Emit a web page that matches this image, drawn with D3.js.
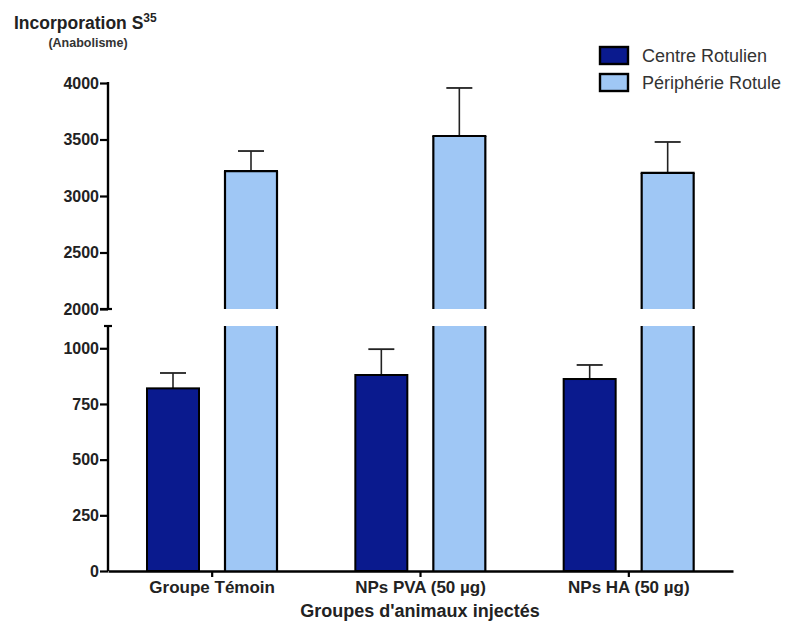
<!DOCTYPE html>
<html><head><meta charset="utf-8">
<script src="https://cdn.jsdelivr.net/npm/d3@7"></script>
<style>body{margin:0;background:#fff}svg{display:block;font-family:"Liberation Sans",Arial,sans-serif}</style>
</head><body><svg id="c" width="790" height="628"></svg>
<script>
const categories = ["Groupe Témoin", "NPs PVA (50 µg)", "NPs HA (50 µg)"];
const seriesNames = ["Centre Rotulien", "Périphérie Rotule"];
const centre = [820, 880, 862];
const centreErr = [69, 116, 63];
const peripherie = [3221, 3531, 3204];
const peripherieErr = [177, 425, 274];
const lowTicks = [0, 250, 500, 750, 1000];
const highTicks = [2000, 2500, 3000, 3500, 4000];
const colors = ["#0a1a8e", "#9fc7f5"];

const FONT = "Liberation Sans, Arial, sans-serif";
const svg = d3.select("#c");
const x0 = 108, x1 = 733;
const xG = d3.scaleBand().domain(categories).range([x0, x1]);
const xS = d3.scaleBand().domain(seriesNames).range([39, 169]).paddingInner(1/3);
const yLow = d3.scaleLinear().domain([0, 1100]).range([571, 326]);
const yHigh = d3.scaleLinear().domain([2000, 4000]).range([309, 83]);

// Axes
const fmt = d3.format("d");
const axL = svg.append("g").attr("transform", `translate(${x0},0)`)
  .call(d3.axisLeft(yLow).tickValues(lowTicks).tickFormat(fmt).tickSize(8).tickPadding(1));
const axH = svg.append("g").attr("transform", `translate(${x0},0)`)
  .call(d3.axisLeft(yHigh).tickValues(highTicks).tickFormat(fmt).tickSize(8).tickPadding(1));
[axL, axH].forEach(a => {
  a.select(".domain").remove();
  a.selectAll(".tick line").attr("stroke", "#000").attr("stroke-width", 2.2);
  a.selectAll(".tick text").attr("font-size", 16).attr("font-weight", "bold").attr("fill", "#222")
    .attr("font-family", FONT);
});
// vertical axis segments
svg.append("line").attr("x1", x0).attr("x2", x0).attr("y1", yLow(0)).attr("y2", yLow(1100)).attr("stroke", "#000").attr("stroke-width", 2.4);
svg.append("line").attr("x1", x0).attr("x2", x0).attr("y1", yHigh(2000)).attr("y2", yHigh(4000) - 1).attr("stroke", "#000").attr("stroke-width", 2.4);
// break caps
svg.append("line").attr("x1", x0 - 4).attr("x2", x0 + 4).attr("y1", yLow(1100)).attr("y2", yLow(1100)).attr("stroke", "#000").attr("stroke-width", 2.2);
svg.append("line").attr("x1", x0 - 8).attr("x2", x0 + 4).attr("y1", yHigh(2000)).attr("y2", yHigh(2000)).attr("stroke", "#000").attr("stroke-width", 2.2);

// Bars
const groups = svg.append("g");
categories.forEach((cat, i) => {
  const gx = xG(cat);
  const w = xS.bandwidth();
  // centre bar
  const cx = gx + xS(seriesNames[0]);
  const cm = cx + w / 2;
  const ctop = yLow(centre[i] + centreErr[i]);
  groups.append("line").attr("x1", cm).attr("x2", cm).attr("y1", yLow(centre[i])).attr("y2", ctop).attr("stroke", "#222").attr("stroke-width", 1.6);
  groups.append("line").attr("x1", cm - 13).attr("x2", cm + 13).attr("y1", ctop).attr("y2", ctop).attr("stroke", "#222").attr("stroke-width", 1.8);
  groups.append("rect").attr("x", cx).attr("y", yLow(centre[i])).attr("width", w)
    .attr("height", yLow(0) - yLow(centre[i])).attr("fill", colors[0]).attr("stroke", "#000").attr("stroke-width", 2);

  // peripherie bar (broken)
  const px = gx + xS(seriesNames[1]);
  const pm = px + w / 2;
  const ptop = yHigh(peripherie[i] + peripherieErr[i]);
  groups.append("line").attr("x1", pm).attr("x2", pm).attr("y1", yHigh(peripherie[i])).attr("y2", ptop).attr("stroke", "#222").attr("stroke-width", 1.6);
  groups.append("line").attr("x1", pm - 13).attr("x2", pm + 13).attr("y1", ptop).attr("y2", ptop).attr("stroke", "#222").attr("stroke-width", 1.8);
  groups.append("rect").attr("x", px).attr("y", yLow(1100)).attr("width", w)
    .attr("height", yLow(0) - yLow(1100)).attr("fill", colors[1]);
  groups.append("rect").attr("x", px).attr("y", yHigh(peripherie[i])).attr("width", w)
    .attr("height", yHigh(2000) - yHigh(peripherie[i])).attr("fill", colors[1]);
  const sides = [[px, yLow(0), px, yLow(1100)], [px + w, yLow(0), px + w, yLow(1100)],
    [px, yHigh(2000), px, yHigh(peripherie[i])], [px + w, yHigh(2000), px + w, yHigh(peripherie[i])],
    [px - 1, yHigh(peripherie[i]), px + w + 1, yHigh(peripherie[i])]];
  sides.forEach(s => groups.append("line").attr("x1", s[0]).attr("y1", s[1]).attr("x2", s[2]).attr("y2", s[3]).attr("stroke", "#000").attr("stroke-width", 2.2));
});

// X axis
const axX = svg.append("g").attr("transform", `translate(0,${yLow(0)})`)
  .call(d3.axisBottom(xG).tickSize(6).tickSizeOuter(0).tickPadding(4));
axX.select(".domain").attr("stroke", "#000").attr("stroke-width", 2.4);
axX.selectAll(".tick line").attr("stroke", "#000").attr("stroke-width", 2.2);
axX.selectAll(".tick text").attr("font-size", 17).attr("font-weight", "bold").attr("fill", "#222")
  .attr("font-family", FONT);

// Titles
svg.append("text").attr("x", 420).attr("y", 617).attr("text-anchor", "middle")
  .attr("font-size", 18).attr("font-weight", "bold").attr("fill", "#222").text("Groupes d'animaux injectés");
const t = svg.append("text").attr("x", 14).attr("y", 29).attr("font-size", 17.5).attr("font-weight", "bold").attr("fill", "#222");
t.append("tspan").text("Incorporation S");
t.append("tspan").attr("font-size", 12).attr("dy", -7).text("35");
svg.append("text").attr("x", 88).attr("y", 47).attr("text-anchor", "middle").attr("font-size", 12.5)
  .attr("font-weight", "bold").attr("fill", "#333").text("(Anabolisme)");

// Legend
const lg = svg.append("g");
seriesNames.forEach((s, i) => {
  const y = 47 + i * 27;
  lg.append("rect").attr("x", 600).attr("y", y).attr("width", 28).attr("height", 17)
    .attr("fill", colors[i]).attr("stroke", "#000").attr("stroke-width", 2.4);
  lg.append("text").attr("x", 642).attr("y", y + 15).attr("font-size", 18).attr("fill", "#333").text(s);
});
</script></body></html>
